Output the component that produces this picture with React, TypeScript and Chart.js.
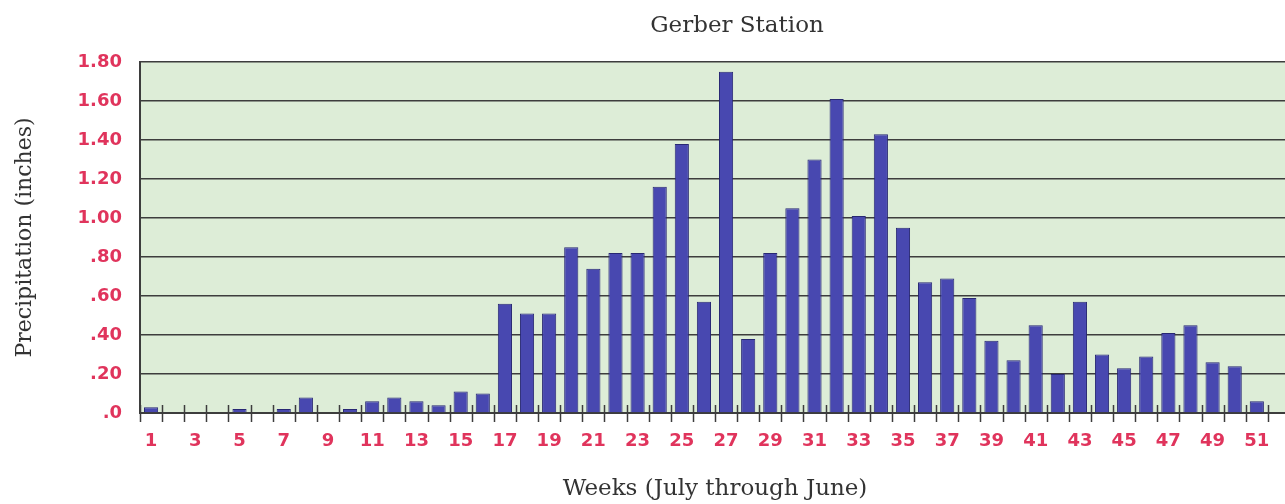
import React, { useEffect, useRef } from "react";
import { Chart, registerables } from "chart.js";

Chart.register(...registerables);

const weeks = [
  "1", "2", "3", "4", "5", "6", "7", "8", "9", "10",
  "11", "12", "13", "14", "15", "16", "17", "18", "19", "20",
  "21", "22", "23", "24", "25", "26", "27", "28", "29", "30",
  "31", "32", "33", "34", "35", "36", "37", "38", "39", "40",
  "41", "42", "43", "44", "45", "46", "47", "48", "49", "50",
  "51", "52",
];

const precipitation = [
  0.03, 0, 0, 0, 0.02, 0, 0.02, 0.08, 0, 0.02,
  0.06, 0.08, 0.06, 0.04, 0.11, 0.10, 0.56, 0.51, 0.51, 0.85,
  0.74, 0.82, 0.82, 1.16, 1.38, 0.57, 1.75, 0.38, 0.82, 1.05,
  1.30, 1.61, 1.01, 1.43, 0.95, 0.67, 0.69, 0.59, 0.37, 0.27,
  0.45, 0.20, 0.57, 0.30, 0.23, 0.29, 0.41, 0.45, 0.26, 0.24,
  0.06, null,
];

const yMin = 0;
const yMax = 1.8;
const yStep = 0.2;

const chartTitle = "Gerber Station";
const xTitle = "Weeks (July through June)";
const yTitle = "Precipitation (inches)";

const RED = "rgb(224, 52, 92)";
const GRID = "#3d3d3d";
const TEXT = "#333333";
const SERIF = '"DejaVu Serif"';

function formatY(v: number): string {
  const c = Math.round(v * 100);
  if (c === 0) return ".0";
  if (c < 100) return "." + String(c).padStart(2, "0");
  return (c / 100).toFixed(2);
}

const bgPlugin = {
  id: "areaBg",
  beforeDraw(chart: any) {
    const { ctx, chartArea } = chart;
    ctx.save();
    ctx.fillStyle = "rgb(221, 237, 215)";
    ctx.fillRect(chartArea.left, chartArea.top, chartArea.right - chartArea.left, chartArea.bottom - chartArea.top);
    ctx.restore();
  },
};

const decoPlugin = {
  id: "deco",
  afterDraw(chart: any) {
    const { ctx, chartArea } = chart;
    const xs = chart.scales.x;
    const n = chart.data.labels.length;
    const w = (chartArea.right - chartArea.left) / n;
    ctx.save();
    ctx.strokeStyle = GRID;
    ctx.lineWidth = 1.5;
    for (let i = 0; i <= n; i++) {
      const x = i < n ? xs.getPixelForValue(i) - w / 2 : xs.getPixelForValue(n - 1) + w / 2;
      ctx.beginPath();
      ctx.moveTo(Math.round(x) + 0.5, chartArea.bottom - 8);
      ctx.lineTo(Math.round(x) + 0.5, chartArea.bottom + 9);
      ctx.stroke();
    }
    ctx.fillStyle = TEXT;
    ctx.font = "23px " + SERIF;
    ctx.textAlign = "center";
    ctx.textBaseline = "middle";
    ctx.fillText(chartTitle, (chartArea.left + chartArea.right) / 2 + 22, 26);
    ctx.restore();
  },
};

export default function App() {
  const ref = useRef<HTMLCanvasElement | null>(null);

  useEffect(() => {
    if (!ref.current) return;
    const chart = new Chart(ref.current, {
      type: "bar",
      data: {
        labels: weeks,
        datasets: [
          {
            label: "Precipitation",
            data: precipitation,
            backgroundColor: "rgb(72, 72, 176)",
            borderColor: "rgb(40, 40, 115)",
            borderWidth: 1,
            barPercentage: 0.64,
            categoryPercentage: 1,
          },
        ],
      },
      options: {
        animation: false,
        responsive: false,
        maintainAspectRatio: false,
        layout: { padding: { top: 62, right: 10, left: 0, bottom: 0 } },
        plugins: {
          legend: { display: false },
          title: { display: false },
          tooltip: { enabled: false },
        },
        scales: {
          x: {
            afterFit(scale: any) {
              scale.height = 91;
            },
            grid: { display: false, drawTicks: false },
            border: { display: true, color: GRID, width: 2 },
            ticks: {
              autoSkip: false,
              maxRotation: 0,
              padding: 18,
              color: RED,
              font: { family: '"DejaVu Sans"', size: 18, weight: "bold" },
              callback: (_v: any, i: number) => (i % 2 === 0 ? weeks[i] : ""),
            },
            title: {
              display: true,
              text: xTitle,
              color: TEXT,
              font: { family: SERIF, size: 23 },
              padding: { top: 0, bottom: 1 },
            },
          },
          y: {
            min: yMin,
            max: yMax,
            afterFit(scale: any) {
              scale.width = 140;
            },
            grid: { color: GRID, lineWidth: 1.5, drawTicks: false },
            border: { display: true, color: GRID, width: 2 },
            ticks: {
              stepSize: yStep,
              padding: 18,
              color: RED,
              font: { family: '"DejaVu Sans"', size: 18, weight: "bold" },
              callback: (v: any) => formatY(Number(v)),
            },
            title: {
              display: true,
              text: yTitle,
              color: TEXT,
              font: { family: SERIF, size: 22 },
              padding: { top: 12, bottom: 0 },
            },
          },
        },
      },
      plugins: [bgPlugin, decoPlugin],
    });
    return () => chart.destroy();
  }, []);

  return (
    <div
      style={{
        position: "fixed",
        left: 0,
        top: 0,
        width: 1285,
        height: 504,
        overflow: "hidden",
        background: "#ffffff",
      }}
    >
      <canvas ref={ref} width={1300} height={504} style={{ display: "block", width: 1300, height: 504 }} />
    </div>
  );
}
